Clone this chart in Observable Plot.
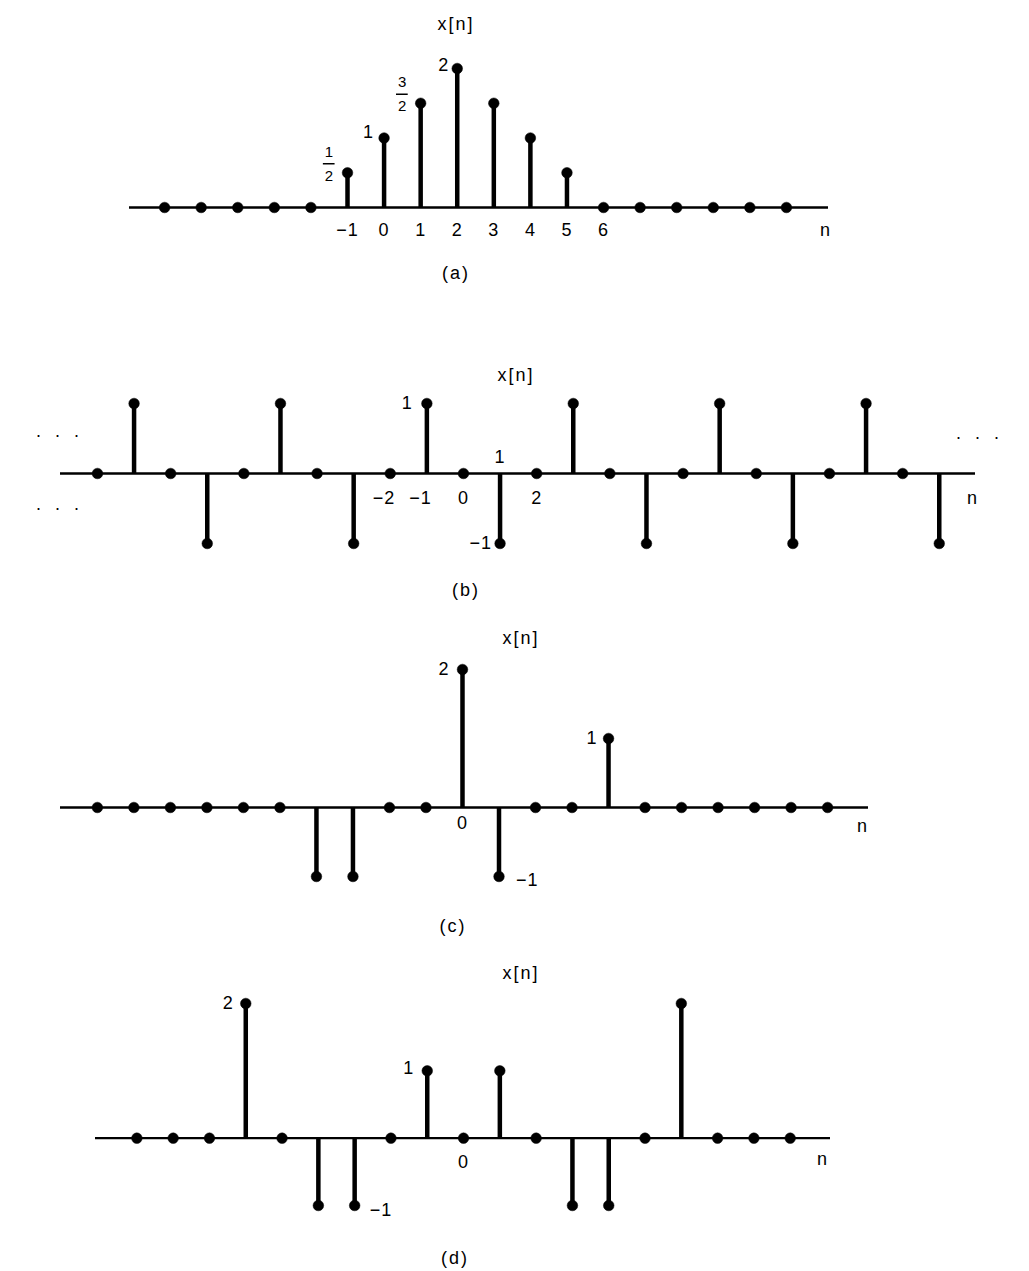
<!DOCTYPE html>
<html>
<head>
<meta charset="utf-8">
<script src="https://cdn.jsdelivr.net/npm/d3@7"></script>
<script src="https://cdn.jsdelivr.net/npm/@observablehq/plot@0.6"></script>
<style>
  body { margin: 0; background: #fff; }
  #fig { position: relative; width: 1029px; height: 1271px; background: #fff; font-family: 'Liberation Sans', Arial, Helvetica, sans-serif; }
  #fig svg { position: absolute; left: 0; }
  #fig svg text { letter-spacing: 1px; }
  .lbl { position: absolute; transform: translate(-50%, -50%); font-size: 18px; line-height: 1; letter-spacing: 2px; color: #000; white-space: nowrap; }
</style>
</head>
<body>
<div id="fig"></div>
<script>
// ---------- data ----------
// (a)
const nA = [-6, -5, -4, -3, -2, -1, 0, 1, 2, 3, 4, 5, 6, 7, 8, 9, 10, 11];
const xA = [0, 0, 0, 0, 0, 0.5, 1, 1.5, 2, 1.5, 1, 0.5, 0, 0, 0, 0, 0, 0];
const ticksA = [-1, 0, 1, 2, 3, 4, 5, 6];
const tickTextA = ["−1", "0", "1", "2", "3", "4", "5", "6"];
const valLabelsA = [{n: 0, v: 1, t: "1"}, {n: 2, v: 2, t: "2"}];
const fracLabelsA = [{n: -1, v: 0.5, num: "1", den: "2"}, {n: 1, v: 1.5, num: "3", den: "2"}];

// (b)
const nB = [-10, -9, -8, -7, -6, -5, -4, -3, -2, -1, 0, 1, 2, 3, 4, 5, 6, 7, 8, 9, 10, 11, 12, 13];
const xB = [0, 1, 0, -1, 0, 1, 0, -1, 0, 1, 0, -1, 0, 1, 0, -1, 0, 1, 0, -1, 0, 1, 0, -1];
const ticksBneg = [{n: -2, t: "−2"}, {n: -1, t: "−1"}];
const ticksBpos = [{n: 0, t: "0"}, {n: 2, t: "2"}];
const ticksBabove = [{n: 1, t: "1"}];
const valLabelsB = [{n: -1, v: 1, t: "1"}, {n: 1, v: -1, t: "−1"}];

// (c)
const nC = [-10, -9, -8, -7, -6, -5, -4, -3, -2, -1, 0, 1, 2, 3, 4, 5, 6, 7, 8, 9, 10];
const xC = [0, 0, 0, 0, 0, 0, -1, -1, 0, 0, 2, -1, 0, 0, 1, 0, 0, 0, 0, 0, 0];
const ticksC = [{n: 0, t: "0"}];
const valLabelsC = [{n: 0, v: 2, t: "2"}, {n: 1, v: -1, t: "−1"}, {n: 4, v: 1, t: "1"}];

// (d)
const nD = [-9, -8, -7, -6, -5, -4, -3, -2, -1, 0, 1, 2, 3, 4, 5, 6, 7, 8, 9];
const xD = [0, 0, 0, 2, 0, -1, -1, 0, 1, 0, 1, 0, -1, -1, 0, 2, 0, 0, 0];
const ticksD = [{n: 0, t: "0"}];
const valLabelsD = [{n: -6, v: 2, t: "2"}, {n: -1, v: 1, t: "1"}, {n: -3, v: -1, t: "−1"}];

const titleText = "x[n]";
const captions = ["(a)", "(b)", "(c)", "(d)"];
const axisName = "n";

// ---------- drawing ----------
const FONT = "'Liberation Sans', Arial, Helvetica, sans-serif";
const fig = document.getElementById("fig");

function panel(cfg) {
  const data = cfg.n.map((n, i) => ({n, v: cfg.v[i]}));
  const xDom = cfg.xDomain;
  const marks = [
    Plot.ruleY([0], {stroke: "black", strokeWidth: 2.3}),
    Plot.ruleX(data.filter(d => d.v !== 0), {x: "n", y1: 0, y2: "v", stroke: "black", strokeWidth: 4.5}),
    Plot.dot(data, {x: "n", y: "v", r: 5.3, fill: "black", stroke: "black", strokeWidth: 0.5}),
    Plot.text([axisName], {x: () => xDom[1], y: () => 0, text: d => d, textAnchor: "middle", dx: cfg.nDx, dy: cfg.nDy, fontSize: 18}),
    ...cfg.marks
  ];
  const svg = Plot.plot({
    width: 1029,
    height: cfg.height,
    marginLeft: cfg.ml,
    marginRight: cfg.mr,
    marginTop: cfg.mt,
    marginBottom: cfg.mb,
    x: {domain: xDom, axis: null},
    y: Object.assign({axis: null}, cfg.y),
    style: {fontFamily: FONT, fontSize: "18px", background: "transparent", color: "black"},
    marks
  });
  svg.style.top = cfg.top + "px";
  fig.appendChild(svg);
}

function label(text, x, y) {
  const d = document.createElement("div");
  d.className = "lbl";
  d.textContent = text;
  d.style.left = x + "px";
  d.style.top = y + "px";
  fig.appendChild(d);
}

// (a)
panel({
  top: 0, height: 300, ml: 129, mr: 201, mt: 68, mb: 93,
  xDomain: [-6.96, 12.15], y: {domain: [0, 2]},
  n: nA, v: xA, nDx: -3, nDy: 23,
  marks: [
    Plot.text(ticksA, {x: d => d, y: () => 0, text: (d, i) => tickTextA[i], dy: 23, fontSize: 18}),
    Plot.text([valLabelsA[0]], {x: "n", y: "v", text: "t", textAnchor: "end", dx: -10, dy: -6, fontSize: 18}),
    Plot.text([valLabelsA[1]], {x: "n", y: "v", text: "t", textAnchor: "end", dx: -8, dy: -3, fontSize: 18}),
    Plot.text(fracLabelsA, {x: "n", y: "v", text: "num", dx: -18, dy: -21, fontSize: 15}),
    Plot.ruleY(fracLabelsA, {y: "v", x1: d => d.n - 0.66, x2: d => d.n - 0.34, dy: -9, stroke: "black", strokeWidth: 1.5}),
    Plot.text(fracLabelsA, {x: "n", y: "v", text: "den", dx: -18, dy: 3, fontSize: 15})
  ]
});

// (b)
panel({
  top: 300, height: 310, ml: 60, mr: 54, mt: 103, mb: 67,
  xDomain: [-11.01, 13.99], y: {domain: [-1, 1]},
  n: nB, v: xB, nDx: -3, nDy: 25,
  marks: [
    Plot.text(ticksBneg, {x: "n", y: () => 0, text: "t", textAnchor: "end", dx: 5, dy: 25, fontSize: 18}),
    Plot.text(ticksBpos, {x: "n", y: () => 0, text: "t", dy: 25, fontSize: 18}),
    Plot.text(ticksBabove, {x: "n", y: () => 0, text: "t", dy: -16, fontSize: 18}),
    Plot.text([valLabelsB[0]], {x: "n", y: "v", text: "t", textAnchor: "end", dx: -14, dy: 0, fontSize: 18}),
    Plot.text([valLabelsB[1]], {x: "n", y: "v", text: "t", textAnchor: "end", dx: -8, dy: 0, fontSize: 18}),
    Plot.text(["·  ·  ·"], {frameAnchor: "left", dx: -25, dy: -38, fontSize: 18}),
    Plot.text(["·  ·  ·"], {frameAnchor: "left", dx: -25, dy: 35, fontSize: 18}),
    Plot.text(["·  ·  ·"], {frameAnchor: "right", dx: 25, dy: -36, fontSize: 18})
  ]
});

// (c)
panel({
  top: 610, height: 330, ml: 60, mr: 161, mt: 59, mb: 64,
  xDomain: [-11.01, 11.12], y: {domain: [-1, 2]},
  n: nC, v: xC, nDx: -6, nDy: 19,
  marks: [
    Plot.text(ticksC, {x: "n", y: () => 0, text: "t", dy: 16, fontSize: 18}),
    Plot.text([valLabelsC[0]], {x: "n", y: "v", text: "t", textAnchor: "end", dx: -13, dy: 0, fontSize: 18}),
    Plot.text([valLabelsC[1]], {x: "n", y: "v", text: "t", textAnchor: "start", dx: 17, dy: 4, fontSize: 18}),
    Plot.text([valLabelsC[2]], {x: "n", y: "v", text: "t", textAnchor: "end", dx: -11, dy: 0, fontSize: 18})
  ]
});

// (d)
panel({
  top: 940, height: 331, ml: 95, mr: 199, mt: 63, mb: 66,
  xDomain: [-10.14, 10.11], y: {domain: [-1, 2]},
  n: nD, v: xD, nDx: -8, nDy: 21,
  marks: [
    Plot.text(ticksD, {x: "n", y: () => 0, text: "t", dy: 24, fontSize: 18}),
    Plot.text([valLabelsD[0]], {x: "n", y: "v", text: "t", textAnchor: "end", dx: -12, dy: 0, fontSize: 18}),
    Plot.text([valLabelsD[1]], {x: "n", y: "v", text: "t", textAnchor: "end", dx: -13, dy: -3, fontSize: 18}),
    Plot.text([valLabelsD[2]], {x: "n", y: "v", text: "t", textAnchor: "start", dx: 15, dy: 5, fontSize: 18})
  ]
});

// titles and captions
label(titleText, 456, 24);
label(titleText, 516, 375);
label(titleText, 521, 638);
label(titleText, 521, 973);
label(captions[0], 456, 273);
label(captions[1], 466, 590);
label(captions[2], 453, 926);
label(captions[3], 455, 1258);
</script>
</body>
</html>
